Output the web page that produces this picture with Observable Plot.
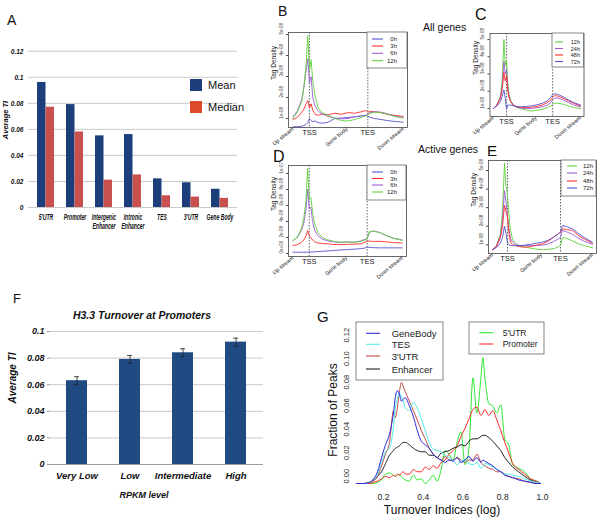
<!DOCTYPE html>
<html><head><meta charset="utf-8">
<script src="https://cdn.jsdelivr.net/npm/d3@7"></script>
<script src="https://cdn.jsdelivr.net/npm/@observablehq/plot@0.6"></script>
<style>
body{margin:0;background:#fff}
#root{position:relative;width:600px;height:521px;overflow:hidden;background:#fff;font-family:"Liberation Sans",Arial,sans-serif;color:#111}
#root svg{position:absolute}
</style></head><body><div id="root"></div>
<script>
// ---------- Panel A ----------
const aCategories = ["5'UTR","Promoter","Intergenic Enhancer","Intronic Enhancer","TES","3'UTR","Gene Body"];
const aTickLabels = ["5'UTR","Promoter","Intergenic\nEnhancer","Intronic\nEnhancer","TES","3'UTR","Gene Body"];
const aMean = [0.096,0.079,0.055,0.056,0.022,0.019,0.014];
const aMedian = [0.077,0.058,0.021,0.025,0.009,0.008,0.007];
const aYTicks = [0,0.02,0.04,0.06,0.08,0.1,0.12];
const aLegend = ["Mean","Median"];

// ---------- Panel F ----------
const fCategories = ["Very Low","Low","Intermediate","High"];
const fMean = [0.063,0.079,0.084,0.092];
const fError = [0.003,0.003,0.003,0.003];
const fYTicks = [0,0.02,0.04,0.06,0.08,0.1];

// ---------- Panels B-E (tag density profiles) ----------
const profileX = [0,4,8,10,12,13.5,15,16.5,18,20,23,27,32,38,44,50,56,62,66,68,70,74,80,86,92,100];
const profileTickLabels = ["Up stream","TSS","Gene body","TES","Down stream"];
const profileTickPos = [1,15,50,68,101];
const tssPos = 15, tesPos = 68;

const bLabels = ["0h","3h","6h","12h"];
const b0h  = [0.6,0.61,0.63,0.66,0.72,0.8,1.0,0.9,0.85,0.88,0.8,0.78,0.82,1.0,1.02,1.05,1.08,1.12,1.15,1.1,1.05,1.0,0.95,0.9,0.86,0.82];
const b3h  = [0.95,1.05,1.3,1.45,1.7,1.86,1.5,1.7,1.4,1.2,1.15,1.22,1.18,1.25,1.2,1.28,1.25,1.32,1.38,1.3,1.33,1.32,1.28,1.2,1.15,1.1];
const b6h  = [1.08,1.35,1.9,2.5,3.3,3.85,2.7,3.0,2.0,1.6,1.35,1.2,1.1,1.02,0.98,1.0,1.08,1.12,1.15,1.2,1.28,1.32,1.3,1.22,1.12,1.05];
const b12h = [1.0,1.3,1.8,2.5,3.6,4.95,3.3,3.8,2.8,2.1,1.5,1.25,1.15,1.0,0.9,0.88,0.95,1.05,1.12,1.18,1.25,1.3,1.28,1.2,1.1,1.02];
const bYTicks = [1,2,3,4,5];
const bYTickLabels = ["1e-08","2e-08","3e-08","4e-08","5e-08"];

const dLabels = ["0h","3h","6h","12h"];
const d0h  = [0.08,0.08,0.07,0.08,0.08,0.08,0.1,0.09,0.1,0.1,0.12,0.14,0.16,0.19,0.22,0.24,0.27,0.3,0.34,0.4,0.38,0.36,0.35,0.35,0.35,0.35];
const d3h  = [0.5,0.55,0.7,0.85,1.1,1.44,1.1,1.0,0.85,0.72,0.65,0.62,0.6,0.56,0.55,0.57,0.58,0.6,0.7,0.77,0.78,0.75,0.76,0.72,0.68,0.65];
const d6h  = [0.8,1.0,1.45,1.9,2.7,4.0,2.8,2.9,2.0,1.44,1.1,0.9,0.78,0.72,0.7,0.72,0.7,0.78,0.88,0.92,1.33,1.4,1.3,1.1,0.95,0.85];
const d12h = [0.8,1.0,1.6,2.2,3.3,5.3,3.4,3.5,2.6,1.85,1.3,1.0,0.85,0.75,0.7,0.72,0.7,0.75,0.85,0.9,1.35,1.4,1.3,1.1,0.95,0.82];
const dYTicks = [0,1,2,3,4,5];
const dYTickLabels = ["0e+00","2e-08","4e-08","6e-08","8e-08","1e-07"];

const cLabels = ["12h","24h","48h","72h"];
const c12h = [1.0,1.2,1.7,2.6,5.0,3.5,3.8,2.4,1.8,1.45,1.2,1.05,0.98,0.9,0.85,0.9,0.95,1.05,1.15,1.25,1.3,1.3,1.25,1.15,1.05,1.0];
const c24h = [1.0,1.2,1.65,2.3,3.72,3.0,3.2,2.2,1.7,1.4,1.2,1.08,1.02,1.0,1.0,1.05,1.1,1.2,1.35,1.5,1.6,1.6,1.5,1.35,1.2,1.1];
const c48h = [1.0,1.2,1.6,2.1,3.1,2.6,2.9,2.0,1.6,1.35,1.2,1.1,1.06,1.05,1.08,1.12,1.2,1.35,1.5,1.65,1.75,1.72,1.6,1.45,1.3,1.15];
const c72h = [1.0,1.15,1.4,1.7,2.08,1.6,0.95,1.2,1.2,1.2,1.15,1.1,1.1,1.12,1.15,1.22,1.3,1.45,1.65,1.8,1.85,1.82,1.68,1.5,1.35,1.2];

const eLabels = ["12h","24h","48h","72h"];
const e12h = [0.73,0.95,1.6,2.8,5.4,4.2,3.65,2.6,1.77,1.3,1.1,0.95,0.88,0.82,0.76,0.73,0.76,0.8,0.9,0.96,1.38,1.36,1.2,1.05,0.95,0.84];
const e24h = [0.73,0.95,1.5,2.3,3.92,3.3,2.5,1.8,1.35,1.15,1.0,0.96,0.96,0.97,0.96,0.98,1.05,1.2,1.32,1.4,1.77,1.7,1.56,1.35,1.18,1.02];
const e48h = [0.73,0.9,1.4,2.0,3.12,2.8,2.5,1.6,1.14,1.0,0.95,0.9,0.87,0.9,0.98,1.05,1.2,1.45,1.6,1.68,1.86,1.82,1.77,1.5,1.3,1.09];
const e72h = [0.73,0.85,1.1,1.4,2.0,1.6,1.1,1.0,0.96,0.95,0.96,0.95,0.98,1.02,1.08,1.14,1.25,1.45,1.59,1.7,2.04,1.98,1.86,1.6,1.38,1.14];
const ceYTicks = [1,2,3,4,5];
const ceYTickLabels = ["1e-08","2e-08","3e-08","4e-08","5e-08"];

// ---------- Panel G ----------
const gX = [0.065,0.10,0.13,0.15,0.17,0.19,0.21,0.23,0.25,0.26,0.27,0.28,0.29,0.30,0.31,0.33,0.35,0.37,0.39,0.41,0.43,0.45,0.47,0.49,0.51,0.53,0.55,0.57,0.59,0.61,0.63,0.65,0.67,0.69,0.70,0.71,0.73,0.75,0.77,0.79,0.81,0.83,0.85,0.88,0.91,0.94,0.97,0.99];
const gGeneBody = [0,0,0.001,0.004,0.01,0.022,0.033,0.042,0.06,0.074,0.079,0.076,0.07,0.072,0.073,0.066,0.057,0.045,0.036,0.033,0.03,0.025,0.022,0.02,0.018,0.02,0.019,0.022,0.018,0.02,0.023,0.019,0.022,0.018,0.02,0.019,0.017,0.015,0.012,0.01,0.007,0.006,0.005,0.003,0.002,0.001,0,0];
const gTES = [0,0,0.001,0.003,0.008,0.018,0.027,0.03,0.048,0.065,0.072,0.077,0.074,0.07,0.064,0.062,0.069,0.064,0.055,0.045,0.035,0.029,0.028,0.027,0.024,0.022,0.02,0.016,0.019,0.02,0.017,0.016,0.018,0.013,0.014,0.017,0.016,0.014,0.012,0.01,0.008,0.008,0.007,0.006,0.004,0.002,0.001,0];
const gUTR3 = [0,0,0.001,0.002,0.006,0.015,0.025,0.035,0.062,0.056,0.065,0.078,0.086,0.082,0.078,0.07,0.062,0.054,0.045,0.038,0.03,0.025,0.022,0.02,0.023,0.02,0.02,0.022,0.02,0.018,0.02,0.02,0.025,0.018,0.016,0.015,0.013,0.012,0.01,0.01,0.008,0.006,0.005,0.004,0.002,0.001,0,0];
const gEnhancer = [0,0,0.001,0.003,0.006,0.01,0.017,0.024,0.028,0.03,0.031,0.032,0.034,0.035,0.035,0.033,0.03,0.028,0.027,0.027,0.024,0.024,0.022,0.026,0.027,0.028,0.03,0.031,0.033,0.032,0.036,0.038,0.038,0.04,0.041,0.041,0.039,0.036,0.032,0.028,0.022,0.018,0.014,0.01,0.006,0.003,0.001,0];
const gUTR5 = [0,0,0,0,0.001,0.003,0.008,0.009,0.007,0.006,0.007,0.008,0.006,0.004,0.003,0.002,0.007,0.003,0.004,0.0,0.003,0.007,0.002,0.012,0.028,0.025,0.02,0.035,0.044,0.016,0.03,0.09,0.06,0.09,0.107,0.09,0.068,0.066,0.06,0.067,0.038,0.033,0.016,0.013,0.01,0.004,0.002,0];
const gPromoter = [0,0,0,0.001,0.002,0.004,0.006,0.005,0.007,0.006,0.008,0.007,0.009,0.01,0.008,0.008,0.012,0.01,0.01,0.014,0.012,0.015,0.013,0.018,0.02,0.025,0.028,0.032,0.04,0.047,0.055,0.063,0.065,0.058,0.06,0.063,0.058,0.062,0.054,0.045,0.035,0.026,0.017,0.012,0.008,0.004,0.002,0];
const gXTicks = [0.2,0.4,0.6,0.8,1.0];
const gYTicks = [0,0.02,0.04,0.06,0.08,0.10,0.12];
const gLegendLeft = ["GeneBody","TES","3'UTR","Enhancer"];
const gLegendRight = ["5'UTR","Promoter"];

// ---------- colours ----------
const colBlue = "#5353cf", colRed = "#ff2b2b", colPurple = "#9b5bd2", colGreen = "#5fd03a";
const root = document.getElementById("root");
const FONT = '"Liberation Sans", Arial, sans-serif';
const baseStyle = {background: "transparent", overflow: "visible", fontFamily: FONT};
function place(svg, left, top) { svg.style.left = left + "px"; svg.style.top = top + "px"; root.appendChild(svg); }
// horizontally condense the tick labels of an axis (the reference uses a narrow face)
function squeeze(svg, aria, sx) {
  svg.querySelectorAll(`g[aria-label="${aria}"] text`).forEach(t => {
    const tr = t.getAttribute("transform") || "";
    t.setAttribute("transform", tr + ` scale(${sx},1)`);
  });
}

// ---------- Panel A plot ----------
(function(){
  const rows = aCategories.map((c,i)=>({cat:c, mean:aMean[i], median:aMedian[i]}));
  const left=0, top=40, width=245, height=200;
  const fl=28, fr=237, ft=50.7, fb=207;
  const step = (fr-fl)/aCategories.length, half = step*(1-0.43)/2;
  const svg = Plot.plot({
    width, height, marginLeft: fl-left, marginRight: left+width-fr, marginTop: ft-top, marginBottom: top+height-fb,
    style: baseStyle,
    x: {domain: aCategories, paddingInner: 0.43, paddingOuter: 0.215, axis: null},
    y: {domain: [0, 0.12], axis: null},
    marks: [
      Plot.gridY({ticks: aYTicks, stroke: "#c9c9c9", strokeOpacity: 1}),
      Plot.barY(rows, {x: "cat", y: "mean", fill: "#1c3f7c", insetRight: half}),
      Plot.barY(rows, {x: "cat", y: "median", fill: "#c8514f", insetLeft: half}),
      Plot.axisY({ticks: aYTicks, tickSize: 0, tickPadding: 5, tickFormat: d => String(d), fontWeight: "bold", fontStyle: "italic", fontSize: 8, label: null}),
      Plot.axisX({tickSize: 0, tickPadding: 5.5, tickFormat: d => aTickLabels[aCategories.indexOf(d)], fontWeight: "bold", fontStyle: "italic", fontSize: 8.5, lineHeight: 1.1, label: null})
    ]
  });
  squeeze(svg, "x-axis tick label", 0.6);
  squeeze(svg, "y-axis tick label", 0.82);
  place(svg, left, top);
})();

// ---------- Panel F plot ----------
(function(){
  const rows = fCategories.map((c,i)=>({cat:c, mean:fMean[i], err:fError[i]}));
  const left=0, top=310, width=265, height=200;
  const fl=50, fr=263, ft=331, fb=464;
  const svg = Plot.plot({
    width, height, marginLeft: fl-left, marginRight: left+width-fr, marginTop: ft-top, marginBottom: top+height-fb,
    style: baseStyle,
    x: {domain: fCategories, paddingInner: 0.6, paddingOuter: 0.3, axis: null},
    y: {domain: [0, 0.1], axis: null},
    marks: [
      Plot.gridY({ticks: fYTicks.filter(d => d > 0), stroke: "#c9c9c9", strokeOpacity: 1}),
      Plot.ruleY([0], {stroke: "#9a9a9a"}),
      Plot.barY(rows, {x: "cat", y: "mean", fill: "#1f4a82"}),
      Plot.ruleX(rows, {x: "cat", y1: d => d.mean - d.err, y2: d => d.mean + d.err, stroke: "#222", strokeWidth: 0.8}),
      Plot.tickY(rows, {x: "cat", y: d => d.mean + d.err, stroke: "#222", strokeWidth: 0.8, insetLeft: 8, insetRight: 8}),
      Plot.tickY(rows, {x: "cat", y: d => d.mean - d.err, stroke: "#222", strokeWidth: 0.8, insetLeft: 8, insetRight: 8}),
      Plot.axisY({ticks: fYTicks, tickSize: 3, tickPadding: 3, stroke: "#9a9a9a", tickFormat: d => String(d), fontWeight: "bold", fontStyle: "italic", fontSize: 9, label: null}),
      Plot.axisX({tickSize: 0, tickPadding: 8, fontWeight: "bold", fontStyle: "italic", fontSize: 9.5, label: null})
    ]
  });
  place(svg, left, top);
})();

// ---------- Panels B-E ----------
function profilePanel(cfg) {
  const {left, top, width, height} = cfg;
  const [fl, ft, fr, fb] = cfg.frame;
  const horiz = profileTickLabels.map((l,i)=>({label:l, pos:profileTickPos[i]})).filter(d => d.label === "TSS" || d.label === "TES");
  const rot = profileTickLabels.map((l,i)=>({label:l, pos:profileTickPos[i]})).filter(d => d.label !== "TSS" && d.label !== "TES");
  const svg = Plot.plot({
    width, height, marginLeft: fl-left, marginRight: left+width-fr, marginTop: ft-top, marginBottom: top+height-fb,
    style: baseStyle,
    x: {domain: [-4, 104], axis: null},
    y: {domain: cfg.yDomain, axis: null},
    marks: [
      Plot.ruleX([tssPos, tesPos], {x: d => d, stroke: "#222", strokeDasharray: "1.5,1.5", strokeWidth: 0.7}),
      ...cfg.series.map(s => Plot.line(profileX.map((x,i)=>({x, y: s.values[i]})), {x: "x", y: "y", stroke: s.color, strokeWidth: 0.9})),
      Plot.frame({stroke: "#444", strokeWidth: 0.8}),
      Plot.axisY({ticks: cfg.yTicks, tickSize: 2, tickFormat: () => "", label: null, stroke: "#444"}),
      Plot.text(cfg.yTicks, {y: d => d, text: (d,i) => cfg.yTickLabels[i], frameAnchor: "left", dx: -7, rotate: -90, fontSize: 4.5, fill: "#333"}),
      Plot.text(["Tag Density"], {text: d => d, frameAnchor: "left", dx: -14.5, rotate: -90, fontSize: 6.5, fill: "#222"}),
      Plot.text(horiz, {x: "pos", text: "label", frameAnchor: "bottom", dy: 7, fontSize: 7.5, fill: "#222"}),
      Plot.text(rot, {x: "pos", text: "label", frameAnchor: "bottom", dy: 2, rotate: -40, textAnchor: "end", fontSize: 5.5, fill: "#222"})
    ]
  });
  place(svg, left, top);
}
const bSeries = [
  {name: bLabels[0], color: colBlue, values: b0h},
  {name: bLabels[1], color: colRed, values: b3h},
  {name: bLabels[2], color: colPurple, values: b6h},
  {name: bLabels[3], color: colGreen, values: b12h}];
const dSeries = [
  {name: dLabels[0], color: colBlue, values: d0h},
  {name: dLabels[1], color: colRed, values: d3h},
  {name: dLabels[2], color: colPurple, values: d6h},
  {name: dLabels[3], color: colGreen, values: d12h}];
const cSeries = [
  {name: cLabels[0], color: colGreen, values: c12h},
  {name: cLabels[1], color: colPurple, values: c24h},
  {name: cLabels[2], color: colRed, values: c48h},
  {name: cLabels[3], color: colBlue, values: c72h}];
const eSeries = [
  {name: eLabels[0], color: colGreen, values: e12h},
  {name: eLabels[1], color: colPurple, values: e24h},
  {name: eLabels[2], color: colRed, values: e48h},
  {name: eLabels[3], color: colBlue, values: e72h}];

profilePanel({left: 258, top: 25, width: 152, height: 135, frame: [288, 32, 407, 127], yDomain: [0.57, 5.1], yTicks: bYTicks, yTickLabels: bYTickLabels, series: bSeries});
profilePanel({left: 258, top: 158, width: 150, height: 135, frame: [288, 165, 406, 256], yDomain: [-0.19, 5.5], yTicks: dYTicks, yTickLabels: dYTickLabels, series: dSeries});
profilePanel({left: 462, top: 26, width: 125, height: 125, frame: [489.5, 33, 583.5, 116], yDomain: [0.536, 5.35], yTicks: ceYTicks, yTickLabels: ceYTickLabels, series: cSeries});
profilePanel({left: 460, top: 153, width: 139, height: 140, frame: [488, 160, 596, 253], yDomain: [0.53, 5.54], yTicks: ceYTicks, yTickLabels: ceYTickLabels, series: eSeries});

// ---------- Panel G plot ----------
const gSeries = [
  {name: gLegendRight[0], color: "#2ee82e", values: gUTR5},
  {name: gLegendRight[1], color: "#ff2a2a", values: gPromoter},
  {name: gLegendLeft[3], color: "#222222", values: gEnhancer},
  {name: gLegendLeft[2], color: "#c24a44", values: gUTR3},
  {name: gLegendLeft[1], color: "#52eeee", values: gTES},
  {name: gLegendLeft[0], color: "#2a2ae0", values: gGeneBody}];
(function(){
  const left=300, top=318, width=300, height=203;
  const fl=356, fr=544, ft=322, fb=483;
  const svg = Plot.plot({
    width, height, marginLeft: fl-left, marginRight: left+width-fr, marginTop: ft-top, marginBottom: top+height-fb,
    style: baseStyle,
    x: {domain: [0.064, 1.01], axis: null},
    y: {domain: [0, 0.137], axis: null},
    marks: [
      ...gSeries.map(s => Plot.line(gX.map((x,i)=>({x, y: s.values[i]})), {x: "x", y: "y", stroke: s.color, strokeWidth: 1, curve: "monotone-x"})),
      Plot.axisX({ticks: gXTicks, tickSize: 0, tickPadding: 10, tickFormat: d => d.toFixed(1), fontSize: 8.5, label: null, fill: "#222"}),
      Plot.text(gYTicks, {y: d => d, text: d => d.toFixed(2), frameAnchor: "left", dx: -10, rotate: -90, fontSize: 7.5, fill: "#222"})
    ]
  });
  place(svg, left, top);
})();

// ---------- overlay: panel letters, titles, legends ----------
const ov = d3.create("svg").attr("width", 600).attr("height", 521)
  .style("left", "0px").style("top", "0px").style("font-family", FONT).style("pointer-events", "none");
function txt(x, y, s, o = {}) {
  const t = ov.append("text").attr("x", x).attr("y", y).text(s)
    .attr("font-size", o.size || 10).attr("fill", o.fill || "#111")
    .attr("text-anchor", o.anchor || "start");
  if (o.weight) t.attr("font-weight", o.weight);
  if (o.style) t.attr("font-style", o.style);
  if (o.middle) t.attr("dominant-baseline", "central");
  if (o.rotate) t.attr("transform", `rotate(${o.rotate},${x},${y})`);
  return t;
}
// letters
txt(7, 25, "A", {size: 14});
txt(278, 15.5, "B", {size: 14});
txt(475, 20, "C", {size: 16});
txt(273, 162, "D", {size: 16});
txt(487, 156, "E", {size: 15});
txt(13, 302.5, "F", {size: 13});
txt(317, 321.5, "G", {size: 15});
txt(423, 31, "All genes", {size: 10.5});
txt(418, 153, "Active genes", {size: 10.5});

// Panel A extras
txt(5, 120, "Average TI", {size: 7.5, weight: "bold", style: "italic", anchor: "middle", middle: true, rotate: -90});
const aLegColors = ["#1c3f7c", "#dc4a2c"];
aLegend.forEach((l, i) => {
  ov.append("rect").attr("x", 190).attr("y", 79 + i*22).attr("width", 12).attr("height", 12).attr("fill", aLegColors[i]);
  txt(208, 85 + i*22, l, {size: 11, middle: true});
});

// Panel F extras
txt(142, 315, "H3.3 Turnover at Promoters", {size: 10.5, weight: "bold", style: "italic", anchor: "middle", middle: true});
txt(144, 495, "RPKM level", {size: 9, weight: "bold", style: "italic", anchor: "middle", middle: true});
txt(12, 378, "Average TI", {size: 10, weight: "bold", style: "italic", anchor: "middle", middle: true, rotate: -90});

// Panel G extras
txt(333, 410, "Fraction of Peaks", {size: 12, anchor: "middle", middle: true, rotate: -90});
txt(442, 510, "Turnover Indices (log)", {size: 12, anchor: "middle", middle: true});

function boxLegend(x1, y1, x2, y2, items, rowYs, lx1, lx2, tx, anchor, size) {
  ov.append("rect").attr("x", x1).attr("y", y1).attr("width", x2 - x1).attr("height", y2 - y1)
    .attr("fill", "#fff").attr("stroke", "#666").attr("stroke-width", 0.8);
  items.forEach((it, i) => {
    ov.append("line").attr("x1", lx1).attr("x2", lx2).attr("y1", rowYs[i]).attr("y2", rowYs[i])
      .attr("stroke", it.color).attr("stroke-width", 1.1);
    txt(tx, rowYs[i], it.name, {size, anchor, middle: true, fill: "#222"});
  });
}
boxLegend(367, 32, 407, 68, bSeries, [39, 46, 53.3, 60.7], 372, 383, 397, "end", 6);
boxLegend(367, 165, 406, 200, dSeries, [172, 178.5, 185, 192], 372, 383, 397, "end", 6);
boxLegend(552, 33, 583.5, 67, cSeries, [42, 48.5, 55, 61.5], 555, 563, 580, "end", 5.5);
boxLegend(561, 160, 596, 196, eSeries, [166, 173, 181, 188], 567, 577, 593, "end", 6);
const gLeft = gLegendLeft.map(n => gSeries.find(s => s.name === n));
const gRight = gLegendRight.map(n => gSeries.find(s => s.name === n));
boxLegend(356, 322, 443, 380, gLeft, [333.3, 344.3, 356, 369], 366, 380, 391.7, "start", 9.5);
boxLegend(469, 322, 544, 354, gRight, [332.7, 344], 479.3, 493.3, 502.7, "start", 8.5);

root.appendChild(ov.node());
</script></body></html>
